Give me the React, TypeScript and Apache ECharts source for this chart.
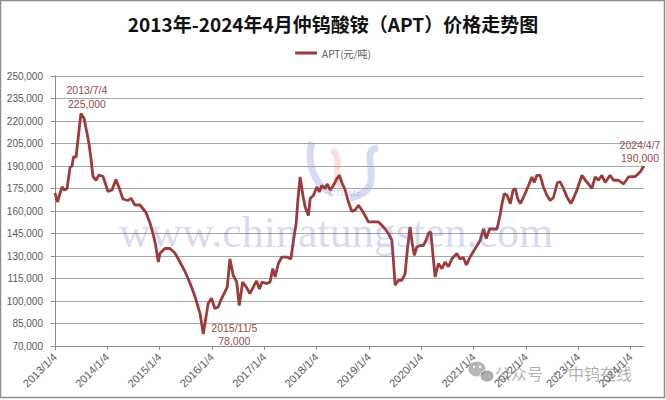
import React, { useEffect, useRef } from 'react';
import * as echarts from 'echarts';

const title = '2013年-2024年4月仲钨酸铵（APT）价格走势图';
const seriesName = 'APT(元/吨)';

const dates = [
  '2013/1/4', '2013/1/21', '2013/2/22', '2013/3/11', '2013/3/29', '2013/4/19', '2013/5/3', '2013/5/13', '2013/5/31', '2013/6/14',
  '2013/7/4', '2013/7/25', '2013/8/15', '2013/8/29', '2013/9/12', '2013/9/26', '2013/10/17', '2013/11/7', '2013/12/5', '2014/1/9',
  '2014/2/6', '2014/3/5', '2014/4/2', '2014/4/23', '2014/5/28', '2014/6/18', '2014/7/16', '2014/8/20', '2014/10/1', '2014/10/29',
  '2014/11/19', '2014/12/6', '2014/12/26', '2015/1/7', '2015/2/10', '2015/3/17', '2015/4/21', '2015/5/26', '2015/6/30', '2015/8/4',
  '2015/9/8', '2015/10/13', '2015/11/5', '2015/12/9', '2016/1/1', '2016/1/25', '2016/2/17', '2016/3/12', '2016/4/4', '2016/4/20',
  '2016/5/9', '2016/6/1', '2016/6/25', '2016/7/13', '2016/8/6', '2016/9/2', '2016/9/25', '2016/10/18', '2016/11/10', '2016/12/1',
  '2016/12/19', '2017/1/21', '2017/2/13', '2017/3/4', '2017/3/20', '2017/4/12', '2017/5/6', '2017/6/10', '2017/7/8', '2017/7/26',
  '2017/8/14', '2017/8/26', '2017/9/11', '2017/9/30', '2017/10/16', '2017/11/8', '2017/11/20', '2017/12/13', '2018/1/5', '2018/1/23',
  '2018/2/9', '2018/3/4', '2018/3/20', '2018/4/8', '2018/5/1', '2018/5/25', '2018/6/12', '2018/6/29', '2018/7/22', '2018/8/14',
  '2018/9/7', '2018/9/30', '2018/10/23', '2018/11/15', '2018/12/8', '2018/12/31', '2019/2/4', '2019/3/11', '2019/4/4', '2019/4/27',
  '2019/5/20', '2019/6/13', '2019/6/24', '2019/7/6', '2019/7/29', '2019/8/21', '2019/9/13', '2019/9/29', '2019/10/18', '2019/11/3',
  '2019/11/17', '2019/12/4', '2019/12/27', '2020/1/19', '2020/2/7', '2020/2/23', '2020/3/11', '2020/3/25', '2020/4/10', '2020/5/3',
  '2020/5/27', '2020/6/19', '2020/7/12', '2020/8/4', '2020/9/8', '2020/10/1', '2020/10/24', '2020/11/14', '2020/12/10', '2021/1/15',
  '2021/2/19', '2021/3/14', '2021/4/2', '2021/4/25', '2021/6/16', '2021/7/9', '2021/7/21', '2021/8/6', '2021/8/25', '2021/9/17',
  '2021/10/6', '2021/10/22', '2021/11/7', '2021/11/26', '2021/12/24', '2022/1/22', '2022/2/15', '2022/3/3', '2022/3/21', '2022/4/13',
  '2022/5/6', '2022/5/30', '2022/6/22', '2022/7/15', '2022/8/12', '2022/8/31', '2022/9/23', '2022/10/17', '2022/11/13', '2022/11/30',
  '2022/12/26', '2023/1/30', '2023/2/22', '2023/3/17', '2023/4/9', '2023/5/2', '2023/5/25', '2023/6/18', '2023/7/11', '2023/8/15',
  '2023/9/7', '2023/10/12', '2023/11/16', '2023/12/21', '2024/2/6', '2024/3/11', '2024/4/7',
];

const prices = [
  172000, 166000, 176000, 174000, 175000, 189000, 190000, 196000, 196000, 208000,
  225000, 222000, 212000, 205000, 195000, 183000, 180500, 184000, 183000, 173000,
  174000, 181000, 174000, 168000, 167000, 168500, 164000, 164000, 159000, 152000,
  145000, 138000, 126000, 131800, 135000, 135000, 132000, 126000, 119700, 112000,
  103000, 91800, 78000, 98400, 101800, 95000, 96000, 101800, 106000, 109300,
  128000, 117000, 112700, 97000, 112700, 109000, 105000, 109000, 113500, 108000,
  112700, 111600, 112700, 121600, 116000, 125000, 129300, 129300, 128000, 140000,
  151600, 167000, 182700, 170500, 162700, 157000, 168300, 170500, 176000, 172700,
  177000, 175000, 178000, 174000, 177000, 181500, 183800, 179000, 174000, 166000,
  159600, 160700, 163800, 160700, 157000, 152700, 152700, 152700, 150500, 148000,
  145000, 140500, 127000, 110500, 113800, 113800, 118000, 133800, 149300, 138000,
  130500, 136000, 137000, 137000, 140500, 145000, 146000, 131600, 116000, 125000,
  121600, 126000, 122800, 128000, 131600, 128000, 129000, 124000, 129300, 135000,
  140500, 148000, 141600, 148000, 148000, 158000, 164900, 171600, 170500, 164900,
  173800, 175000, 168300, 164900, 170500, 177000, 182700, 179000, 183800, 183800,
  176000, 170500, 167000, 169000, 179000, 179500, 175000, 169400, 165000, 168000,
  174000, 183800, 180500, 178000, 175000, 182700, 180500, 183800, 179000, 183800,
  180500, 180500, 178000, 182700, 183000, 186000, 190000,
];

const yTicks = [70000, 85000, 100000, 115000, 130000, 145000, 160000, 175000, 190000, 205000, 220000, 235000, 250000];
const xTickLabels = ['2013/1/4', '2014/1/4', '2015/1/4', '2016/1/4', '2017/1/4', '2018/1/4', '2019/1/4', '2020/1/4', '2021/1/4', '2022/1/4', '2023/1/4', '2024/1/4'];

// annotated points (date) with label placement
const annotations = [
  { date: '2013/7/4', offset: [6, 0], distance: 3 },
  { date: '2015/11/5', offset: [31, 14], distance: 0 },
  { date: '2024/4/7', offset: [-4, 0], distance: 1 },
];

const watermark = 'www.chinatungsten.com';
const wechatLeft = '公众号';
const wechatRight = '中钨在线';

const BASE = Date.UTC(2013, 0, 4);
const toYears = (d: string) => {
  const [y, m, dd] = d.split('/').map(Number);
  return (Date.UTC(y, m - 1, dd) - BASE) / (365.25 * 86400000);
};
const fmt = (v: number) => Math.round(v).toLocaleString('en-US');

const LINE = '#9c3b3a';
const ANN = '#9b4a48';
const AXIS_TXT = '#595959';
const FONT = 'Liberation Sans, Arial, sans-serif';

export default function App() {
  const ref = useRef<HTMLDivElement>(null);
  useEffect(() => {
    if (!ref.current) return;
    const chart = echarts.init(ref.current, undefined, { renderer: 'svg' });
    const xTicks = xTickLabels.map(toYears);
    const xMax = toYears(dates[dates.length - 1]);
    const data = dates.map((d, i) => [toYears(d), prices[i]]);
    const markData = annotations.map(a => {
      const i = dates.indexOf(a.date);
      return {
        coord: [toYears(a.date), prices[i]],
        value: prices[i],
        symbol: 'circle',
        symbolSize: 0.1,
        itemStyle: { color: 'rgba(0,0,0,0)' },
        label: {
          show: true,
          position: 'top',
          distance: a.distance,
          offset: a.offset,
          formatter: `${a.date}\n${fmt(prices[i])}`,
          color: ANN,
          fontSize: 10.5,
          lineHeight: 13.5,
          fontFamily: FONT,
          align: 'center',
        },
      };
    });

    chart.setOption({
      animation: false,
      backgroundColor: '#ffffff',
      title: {
        text: title,
        left: 'center',
        top: 9,
        textStyle: {
          fontFamily: 'Noto Sans CJK SC, sans-serif',
          fontWeight: 'bold',
          fontSize: 19,
          color: '#111111',
        },
      },
      legend: {
        top: 43,
        left: 'center',
        icon: 'rect',
        itemWidth: 22,
        itemHeight: 3,
        itemGap: 4,
        textStyle: { color: AXIS_TXT, fontSize: 10, fontFamily: 'Noto Sans CJK SC, sans-serif' },
        data: [seriesName],
      },
      grid: { left: 55, right: 22, top: 76, bottom: 54, outerBoundsMode: 'none' },
      xAxis: {
        type: 'value',
        min: 0,
        max: xMax,
        axisLine: { show: true, lineStyle: { color: '#8c8c8c', width: 1 } },
        axisTick: { show: true, length: 4, customValues: xTicks, lineStyle: { color: '#8c8c8c' } },
        axisLabel: {
          customValues: xTicks,
          rotate: 45,
          margin: 9,
          color: AXIS_TXT,
          fontSize: 11,
          fontFamily: FONT,
          formatter: (v: number) => xTickLabels[Math.round(v)] ?? '',
        },
        splitLine: { show: false },
      },
      yAxis: {
        type: 'value',
        min: 70000,
        max: 250000,
        axisLine: { show: true, lineStyle: { color: '#8c8c8c', width: 1 } },
        axisTick: { show: true, length: 4, customValues: yTicks, lineStyle: { color: '#8c8c8c' } },
        axisLabel: {
          customValues: yTicks,
          margin: 12,
          color: AXIS_TXT,
          fontSize: 10,
          fontFamily: FONT,
          formatter: (v: number) => fmt(v),
        },
        splitLine: { show: true, lineStyle: { color: '#a6a6a6', width: 1 } },
      },
      graphic: [
        {
          type: 'rect',
          silent: true,
          z: -10,
          shape: { x: 0.5, y: 0.5, width: 664, height: 397 },
          style: { fill: 'none', stroke: '#8f8f8f', lineWidth: 1.5 },
        },
        // faint logo
        {
          type: 'group',
          silent: true,
          z: 100,
          children: [
            { type: 'bezierCurve', shape: { x1: 312, y1: 142, x2: 332, y2: 192, cpx1: 305, cpy1: 165, cpx2: 318, cpy2: 190 }, style: { stroke: 'rgba(70,90,200,0.22)', lineWidth: 7, fill: 'none' } },
            { type: 'bezierCurve', shape: { x1: 378, y1: 148, x2: 350, y2: 198, cpx1: 355, cpy1: 150, cpx2: 392, cpy2: 190 }, style: { stroke: 'rgba(70,90,200,0.22)', lineWidth: 7, fill: 'none' } },
            { type: 'bezierCurve', shape: { x1: 332, y1: 150, x2: 342, y2: 188, cpx1: 345, cpy1: 160, cpx2: 330, cpy2: 178 }, style: { stroke: 'rgba(220,90,90,0.2)', lineWidth: 6, fill: 'none' } },
            { type: 'text', x: 345, y: 193, style: { text: 'CTOMS', font: 'italic 9px Liberation Sans, Arial, sans-serif', fill: 'rgba(70,90,200,0.3)', align: 'center', verticalAlign: 'middle' } },
          ],
        },
        {
          type: 'text',
          silent: true,
          z: 100,
          x: 336,
          y: 232,
          style: {
            text: watermark,
            font: '44px Liberation Serif, Times New Roman, serif',
            fill: 'rgba(95,110,200,0.27)',
            align: 'center',
            verticalAlign: 'middle',
          },
        },
        // wechat watermark
        {
          type: 'group',
          silent: true,
          z: 100,
          children: [
            { type: 'ellipse', shape: { cx: 477, cy: 369, rx: 8.5, ry: 7.5 }, style: { fill: 'rgba(120,120,120,0.55)' } },
            { type: 'ellipse', shape: { cx: 487, cy: 376, rx: 7, ry: 6 }, style: { fill: 'rgba(120,120,120,0.6)', stroke: '#ffffff', lineWidth: 1 } },
            { type: 'circle', shape: { cx: 474, cy: 367, r: 1.2 }, style: { fill: '#ffffff' } },
            { type: 'circle', shape: { cx: 480, cy: 367, r: 1.2 }, style: { fill: '#ffffff' } },
            { type: 'text', x: 495, y: 373, style: { text: wechatLeft, font: '16px Noto Sans CJK SC, sans-serif', fill: 'rgba(110,110,110,0.55)', verticalAlign: 'middle' } },
            { type: 'circle', shape: { cx: 555, cy: 374, r: 1.6 }, style: { fill: 'rgba(110,110,110,0.55)' } },
            { type: 'text', x: 568, y: 373, style: { text: wechatRight, font: '16px Noto Sans CJK SC, sans-serif', fill: 'rgba(110,110,110,0.55)', verticalAlign: 'middle' } },
          ],
        },
      ],
      series: [
        {
          name: seriesName,
          type: 'line',
          data,
          showSymbol: false,
          symbol: 'none',
          color: LINE,
          lineStyle: { color: LINE, width: 2.8 },
          z: 3,
          markPoint: {
            silent: true,
            animation: false,
            data: markData,
          },
        },
      ],
    });
    return () => chart.dispose();
  }, []);
  return <div ref={ref} style={{ position: 'fixed', left: 0, top: 0, width: 666, height: 400 }} />;
}
